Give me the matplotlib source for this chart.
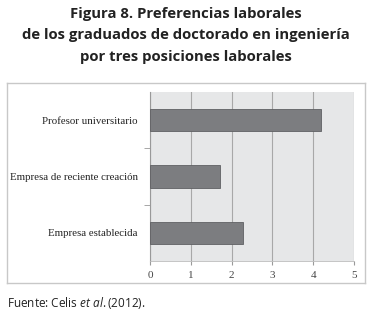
import matplotlib.pyplot as plt

# datos
categorias = ["Empresa establecida", "Empresa de reciente creación", "Profesor universitario"]
valores = [2.27, 1.72, 4.18]
ticks_x = [0, 1, 2, 3, 4, 5]

plt.rcParams["mathtext.fontset"] = "custom"
plt.rcParams["mathtext.rm"] = "Open Sans"
plt.rcParams["mathtext.it"] = "Open Sans:italic"

W, H = 373, 322
fig = plt.figure(figsize=(W / 100, H / 100), dpi=100)
fig.patch.set_facecolor("white")

# marco exterior del grafico
marco = fig.add_axes([7 / W, 1 - 283 / H, (365 - 7) / W, (283 - 83) / H], zorder=-1)
marco.set_xticks([])
marco.set_yticks([])
for s in marco.spines.values():
    s.set_color("#c8c8c8")
    s.set_linewidth(1.0)

ax = fig.add_axes([150 / W, 1 - 261 / H, (354 - 150) / W, (261 - 92) / H])
ax.set_facecolor("#e6e7e8")

pos = range(len(categorias))
ax.barh(pos, valores, height=0.4, color="#7c7d80", edgecolor="#5f6063",
        linewidth=0.6, zorder=3)

ax.set_xlim(0, 5)
ax.set_ylim(-0.5, len(categorias) - 0.5)
ax.set_xticks(ticks_x)
ax.set_xticklabels([str(t) for t in ticks_x], family="Liberation Serif",
                   fontsize=8, color="#444444")
ax.set_yticks(list(pos))
ax.set_yticklabels(categorias, family="Liberation Serif", fontsize=7.8,
                   color="#222222")
ax.set_yticks([0.5, 1.5], minor=True)
ax.tick_params(axis="y", which="major", length=0, pad=9)
ax.tick_params(axis="y", which="minor", length=4, color="#999999")
ax.tick_params(axis="x", length=3, color="#999999", pad=4)

ax.grid(axis="x", color="#a8a8a8", linewidth=0.8, zorder=1)
for s in ["top", "right"]:
    ax.spines[s].set_visible(False)
ax.spines["left"].set_color("#999999")
ax.spines["bottom"].set_color("#bbbbbb")
ax.spines["left"].set_linewidth(0.8)
ax.spines["bottom"].set_linewidth(0.6)

# titulo
titulo = ["Figura 8. Preferencias laborales",
          "de los graduados de doctorado en ingeniería",
          "por tres posiciones laborales"]
for i, linea in enumerate(titulo):
    fig.text(186 / W, 1 - (14 + i * 21.5) / H, linea, ha="center", va="center",
             family="Open Sans", fontweight="bold", fontsize=10.7, color="#222222")

# fuente
fig.text(7 / W, 1 - 303 / H, r"Fuente: Celis $\it{et\ al.}$(2012).", ha="left",
         va="center", family="Open Sans", fontsize=8.5, color="#222222")

fig.savefig("out.png", dpi=100)
